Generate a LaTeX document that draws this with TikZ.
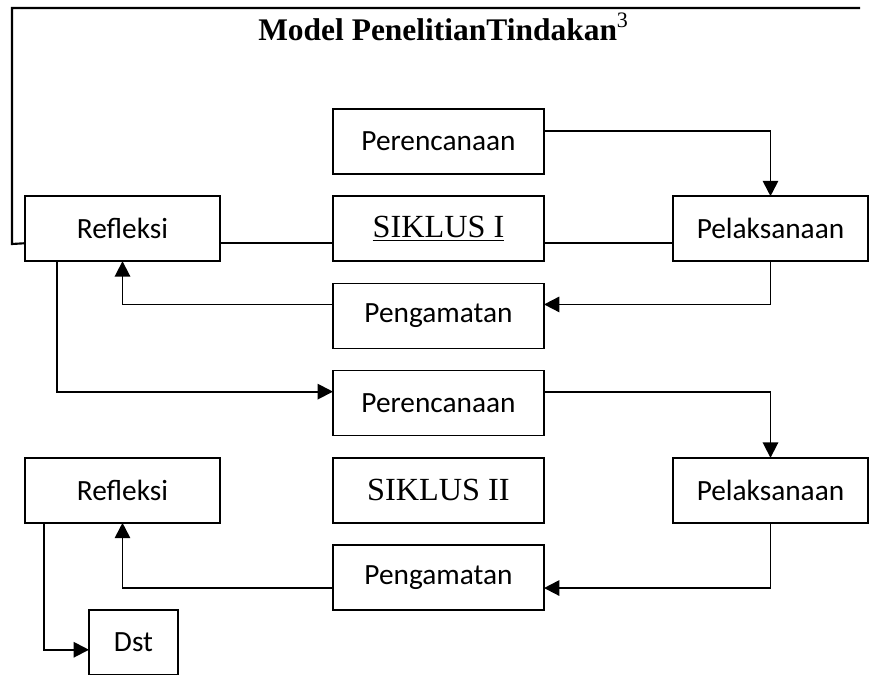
\documentclass[tikz,border=0pt]{standalone}
\usepackage{fontspec}
\setmainfont{Carlito}
\newfontfamily\timesf{Liberation Serif}
\usetikzlibrary{arrows.meta, positioning}

\begin{document}
\begin{tikzpicture}[
  x=0.75pt, y=-0.75pt,
  stage/.style={draw, line width=1.2pt, outer sep=0pt, minimum width=158.25pt, minimum height=48.75pt, inner sep=0pt, font=\fontsize{22}{26}\selectfont},
  side/.style={stage, minimum width=146.25pt},
  cyc/.style={stage, font=\timesf\fontsize{24.2}{28}\selectfont},
  flow/.style={-{Triangle[length=11.5pt, width=11.5pt]}, line width=1.4pt},
  link/.style={line width=1.3pt},
  node distance=16.65pt and 84.75pt
]
\useasboundingbox (0,0) rectangle (869,675);
\node[anchor=base west, inner sep=0pt, font=\timesf\bfseries\fontsize{23.6}{28}\selectfont] (title) at (258,40) {Model PenelitianTindakan\textsuperscript{\mdseries 3}};
\node[stage] (plan1) at (438.5,141.5) {Perencanaan};
\node[cyc, below=of plan1] (cyc1) {\underline{SIKLUS I}};
\node[stage, below=of cyc1] (obs1) {Pengamatan};
\node[side, left=of cyc1] (refl1) {Refleksi};
\node[side, right=96.75pt of cyc1] (act1) {Pelaksanaan};
\node[stage, below=of obs1] (plan2) {Perencanaan};
\node[cyc, below=of plan2] (cyc2) {SIKLUS II};
\node[stage, below=of cyc2] (obs2) {Pengamatan};
\node[side, left=of cyc2] (refl2) {Refleksi};
\node[side, right=96.75pt of cyc2] (act2) {Pelaksanaan};
\node[stage, minimum width=66.75pt, below=65.25pt of refl2, xshift=8.25pt] (dst) {Dst};
\coordinate (edge) at (860,8);

\draw[link, line width=1.6pt] (edge) -- (12,8) -- (12,244) -- ([yshift=-10.9pt]refl1.west);
\draw[link] ([yshift=-10.9pt]refl1.east) -- ([yshift=-10.9pt]cyc1.west);
\draw[link] ([yshift=-10.9pt]cyc1.east) -- ([yshift=-10.9pt]act1.west);
\draw[flow] ([yshift=7.9pt]plan1.east) -| (act1.north);
\draw[flow] (act1.south) |- ([yshift=8.6pt]obs1.east);
\draw[flow] ([yshift=8.6pt]obs1.west) -| (refl1.south);
\draw[flow] ([xshift=-49.1pt]refl1.south) |- ([yshift=8.6pt]plan2.west);
\draw[flow] ([yshift=8.6pt]plan2.east) -| (act2.north);
\draw[flow] (act2.south) |- ([yshift=-7.9pt]obs2.east);
\draw[flow] ([yshift=-7.9pt]obs2.west) -| (refl2.south);
\draw[flow] ([xshift=-58.9pt]refl2.south) |- ([yshift=-5.6pt]dst.west);
\end{tikzpicture}
\end{document}
